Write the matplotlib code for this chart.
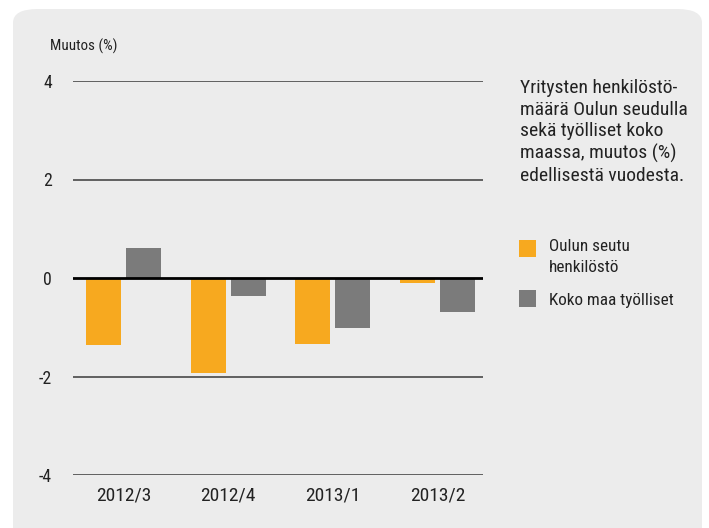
import matplotlib
matplotlib.use('Agg')
import matplotlib.pyplot as plt
from matplotlib.patches import FancyBboxPatch, Rectangle
from matplotlib import font_manager
import numpy as np

categories = ['2012/3', '2012/4', '2013/1', '2013/2']
oulu = [-1.37, -1.92, -1.35, -0.11]
koko_maa = [0.60, -0.37, -1.02, -0.70]
yticks = [-4, -2, 0, 2, 4]

ORANGE = '#f7a91f'
GREY = '#7b7b7b'
TEXT = '#222222'
BG = '#ececec'

# pick a condensed face if one is there
fonts = font_manager.fontManager.ttflist
names = {f.name for f in fonts}
family, stretch = 'DejaVu Sans', 'normal'
for cand in ['Liberation Sans Narrow', 'Roboto Condensed', 'Open Sans Condensed']:
    if cand in names:
        family = cand
        break
else:
    if any(f.name == 'DejaVu Sans' and f.stretch == 'condensed' for f in fonts):
        stretch = 'condensed'
    elif any(f.name == 'Roboto' and f.stretch == 'condensed' for f in fonts):
        family, stretch = 'Roboto', 'condensed'
plt.rcParams['font.family'] = [family, 'DejaVu Sans']
plt.rcParams['font.stretch'] = stretch

fig = plt.figure(figsize=(7.09, 5.28), dpi=100)
fig.patch.set_facecolor('white')

W, H = 709, 528
panel = FancyBboxPatch((13 / W, -0.1), 689 / W, (528 - 9) / H + 0.1,
                       boxstyle='round,pad=0,rounding_size=0.035',
                       transform=fig.transFigure, facecolor=BG, edgecolor='none',
                       zorder=-5, mutation_aspect=H / W)
fig.patches.append(panel)

ax = fig.add_axes([73 / W, 1 - 475 / H, 410 / W, 394 / H])
ax.set_facecolor('none')
ax.set_zorder(2)

x = np.arange(len(categories))
w = 0.334
ax.bar(x - 0.191, oulu, w, color=ORANGE, zorder=2)
ax.bar(x + 0.191, koko_maa, w, color=GREY, zorder=2)

for t in yticks:
    if t == 0:
        ax.axhline(0, color='black', lw=2, zorder=3)
    else:
        ax.axhline(t, color='#3a3a3a', lw=1.1, zorder=1)

ax.set_ylim(-4, 4)
ax.set_xlim(-0.482, 3.435)
ax.set_yticks(yticks)
ax.set_yticklabels([str(t) for t in yticks], fontsize=12.8, color=TEXT)
ax.set_xticks(x)
ax.set_xticklabels(categories, fontsize=14, color=TEXT)
ax.tick_params(axis='both', length=0)
ax.tick_params(axis='y', pad=15)
ax.tick_params(axis='x', pad=8)
for s in ax.spines.values():
    s.set_visible(False)

fig.text(50 / W, 1 - 46 / H, 'Muutos (%)', fontsize=10.8, color=TEXT, va='center', ha='left')

fig.text(520 / W, 1 - 79 / H,
         'Yritysten henkilöstö-\nmäärä Oulun seudulla\nsekä työlliset koko\nmaassa, muutos (%)\nedellisestä vuodesta.',
         fontsize=14, color=TEXT, va='top', ha='left', linespacing=1.26)

fig.patches.append(Rectangle((519 / W, 1 - 257 / H), 17 / W, 17 / H,
                             transform=fig.transFigure, facecolor=ORANGE, edgecolor='none'))
fig.patches.append(Rectangle((519 / W, 1 - 307 / H), 17 / W, 17 / H,
                             transform=fig.transFigure, facecolor=GREY, edgecolor='none'))
fig.text(549 / W, 1 - 257 / H, 'Oulun seutu\nhenkilöstö', fontsize=12.3, color=TEXT,
         va='center', ha='left', linespacing=1.45)
fig.text(549 / W, 1 - 300 / H, 'Koko maa työlliset', fontsize=12.3, color=TEXT,
         va='center', ha='left')

fig.savefig('out.png', dpi=100, facecolor='white')
